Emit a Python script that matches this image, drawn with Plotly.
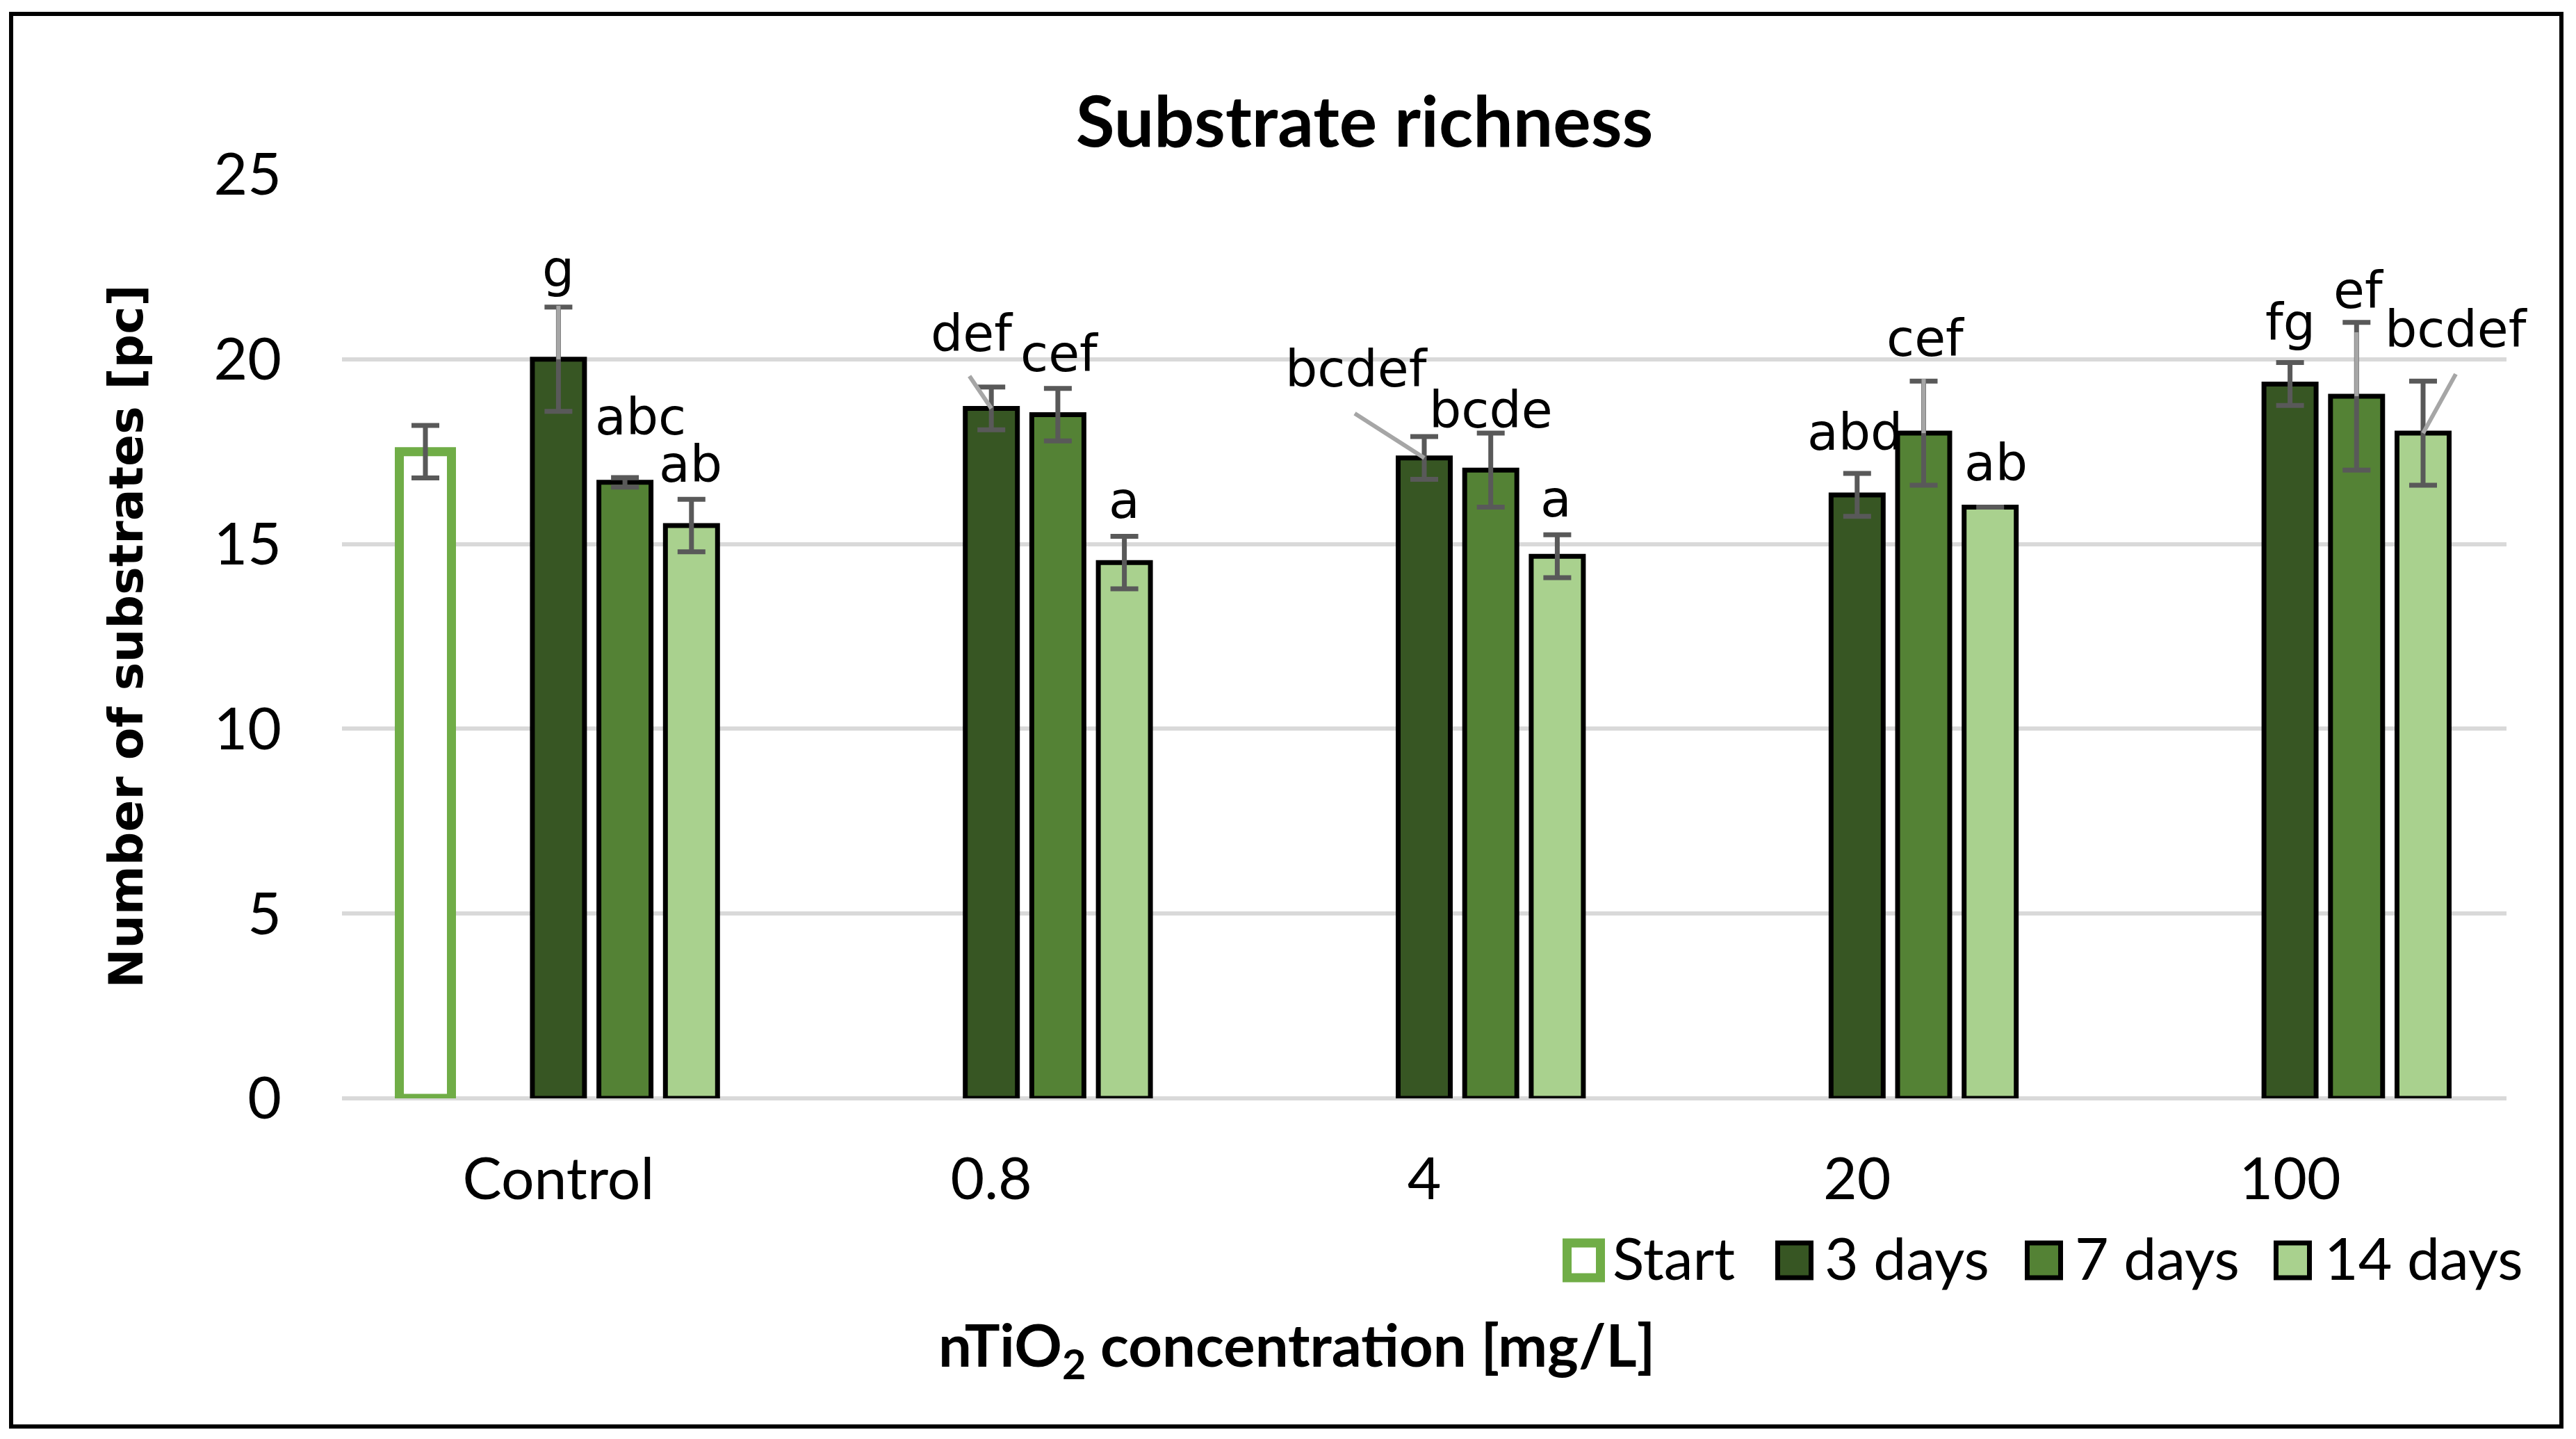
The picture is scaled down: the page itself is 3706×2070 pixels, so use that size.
import plotly.graph_objects as go

# ---------------- data ----------------
categories = ["Control", "0.8", "4", "20", "100"]
start_mean = [17.5, None, None, None, None]
start_err = [0.71, None, None, None, None]
mean_3d = [20.0, 18.67, 17.33, 16.33, 19.33]
err_3d = [1.41, 0.58, 0.58, 0.58, 0.58]
mean_7d = [16.67, 18.5, 17.0, 18.0, 19.0]
err_7d = [0.13, 0.71, 1.0, 1.41, 2.0]
mean_14d = [15.5, 14.5, 14.67, 16.0, 18.0]
err_14d = [0.71, 0.71, 0.58, 0.0, 1.41]
letters_3d = ["g", "def", "bcdef", "abd", "fg"]
letters_7d = ["abc", "cef", "bcde", "cef", "ef"]
letters_14d = ["ab", "a", "a", "ab", "bcdef"]
y_tick_values = [0, 5, 10, 15, 20, 25]
legend_names = ["Start", "3 days", "7 days", "14 days"]

# ---------------- layout / style constants ----------------
W, H = 3706, 2070                               # page size
OFF = 8                                         # default body margin of the page
PL, PR, PT, PB = 492, 3606, 251, 1580           # plot area in page px
SLOT = 0.15366                                  # slot pitch (category units)
BAR_W = 0.1204                                  # bar width (category units)

C_START = "#70AD47"
C_3D = "#375623"
C_7D = "#548235"
C_14D = "#A9D18E"
C_GRID = "#D9D9D9"
C_ERR = "#595959"
C_LEADER = "#A6A6A6"

TICK_FONT = dict(family="Lato", size=84, color="black")
LABEL_FONT = dict(family="DejaVu Sans", size=73, color="black")

# label offsets (px) of text centre from the bar top, and leader line starts
label_dx_3d = [0, -28, -97, -3, 0]
label_dy_3d = [130, 108, 128, 90, 89]
label_dx_7d = [22, 3, 0, 3, 3]
label_dy_7d = [94, 88, 87, 137, 152]
label_dx_14d = [-1, 0, -2, 8, 48]
label_dy_14d = [89, 90, 83, 64, 150]
leader_3d = [(0, 77), (-31.5, 46.5), (-100, 64), None, None]
leader_7d = [None, None, None, (0, 78), (0, 92)]
leader_14d = [None, None, None, None, (47, 85)]


def fx(px):
    return (px - PL) / (PR - PL)


def fy(py):
    return (PB - py) / (PB - PT)


xpos = list(range(len(categories)))

series = [
    ("Start", start_mean, start_err, -2, "white", C_START, 13),
    ("3 days", mean_3d, err_3d, 0, C_3D, "black", 7),
    ("7 days", mean_7d, err_7d, 1, C_7D, "black", 7),
    ("14 days", mean_14d, err_14d, 2, C_14D, "black", 7),
]

fig = go.Figure()
for name, vals, errs, slot, fill, line_c, line_w in series:
    fig.add_trace(go.Bar(
        name=name,
        x=xpos,
        y=vals,
        width=BAR_W,
        offset=slot * SLOT - BAR_W / 2,
        marker=dict(color=fill, line=dict(color=line_c, width=line_w)),
        error_y=dict(type="data", array=errs, visible=True,
                     color=C_ERR, thickness=7, width=20),
        showlegend=False,
    ))

annotations = []
shapes = []

# significance letters + leader lines
for vals, letters, dxs, dys, leaders, slot in [
    (mean_3d, letters_3d, label_dx_3d, label_dy_3d, leader_3d, 0),
    (mean_7d, letters_7d, label_dx_7d, label_dy_7d, leader_7d, 1),
    (mean_14d, letters_14d, label_dx_14d, label_dy_14d, leader_14d, 2),
]:
    for i, v in enumerate(vals):
        xc = xpos[i] + slot * SLOT
        annotations.append(dict(
            x=xc, y=v, xref="x", yref="y", text=letters[i],
            showarrow=False, xshift=dxs[i], yshift=dys[i],
            xanchor="center", yanchor="middle", font=LABEL_FONT,
        ))
        if leaders[i] is not None:
            lx, ly = leaders[i]
            shapes.append(dict(
                type="line", xref="x", yref="y",
                xsizemode="pixel", ysizemode="pixel",
                xanchor=xc, yanchor=v,
                x0=lx, y0=ly, x1=0, y1=0,
                line=dict(color=C_LEADER, width=6), layer="above",
            ))

# x axis title (placed off-centre like the reference)
annotations.append(dict(
    x=fx(1865), y=fy(1939), xref="paper", yref="paper",
    text="nTiO<sub>2</sub> concentration [mg/L]", showarrow=False,
    xanchor="center", yanchor="middle",
    font=dict(family="Lato", size=85, color="black", weight="bold"),
))

# legend (drawn manually so that swatches have Excel-like size)
legend_swatch_x = [2254.5, 2557.5, 2916.5, 3274.5]
legend_text_x = [2318, 2623, 2983, 3342]
legend_fill = ["white", C_3D, C_7D, C_14D]
legend_line = [C_START, "black", "black", "black"]
legend_line_w = [13, 7, 7, 7]
LEG_Y = 1813
SW = 48
for i, name in enumerate(legend_names):
    shapes.append(dict(
        type="rect", xref="paper", yref="paper",
        x0=fx(legend_swatch_x[i]), x1=fx(legend_swatch_x[i] + SW),
        y0=fy(LEG_Y + SW / 2 + 1), y1=fy(LEG_Y - SW / 2 - 1),
        fillcolor=legend_fill[i],
        line=dict(color=legend_line[i], width=legend_line_w[i]),
    ))
    annotations.append(dict(
        x=fx(legend_text_x[i]), y=fy(1808), xref="paper", yref="paper",
        text=name, showarrow=False, xanchor="left", yanchor="middle",
        font=TICK_FONT,
    ))

# outer chart border
shapes.append(dict(
    type="rect", xref="paper", yref="paper",
    x0=fx(16), x1=fx(3685), y0=fy(2052), y1=fy(20),
    line=dict(color="black", width=6), fillcolor="rgba(0,0,0,0)",
    layer="above",
))

fig.update_layout(
    width=W - OFF, height=H - OFF,
    margin=dict(l=PL - OFF, r=W - PR, t=PT - OFF, b=H - PB, autoexpand=False),
    paper_bgcolor="white", plot_bgcolor="white",
    title=dict(
        text="Substrate richness", xref="container", yref="container",
        x=(1963 - OFF) / (W - OFF), y=1 - (175 - OFF) / (H - OFF),
        xanchor="center", yanchor="middle",
        font=dict(family="Lato", size=102, color="black", weight="bold"),
    ),
    xaxis=dict(
        range=[-0.5, len(categories) - 0.5],
        tickvals=xpos, ticktext=categories,
        showgrid=False, zeroline=False, showline=False, ticks="",
        tickfont=TICK_FONT, ticklabelstandoff=60, automargin=False,
    ),
    yaxis=dict(
        range=[0, 25], tickvals=y_tick_values,
        showgrid=True, gridcolor=C_GRID, gridwidth=6,
        zeroline=True, zerolinecolor=C_GRID, zerolinewidth=6,
        showline=False, ticks="", tickfont=TICK_FONT,
        ticklabelstandoff=86, automargin=False,
        title=dict(
            text="Number of substrates [pc]", standoff=79,
            font=dict(family="DejaVu Sans", size=68, color="black",
                      weight="bold"),
        ),
    ),
    showlegend=False,
    annotations=annotations,
    shapes=shapes,
)

fig.write_html("out.html")
